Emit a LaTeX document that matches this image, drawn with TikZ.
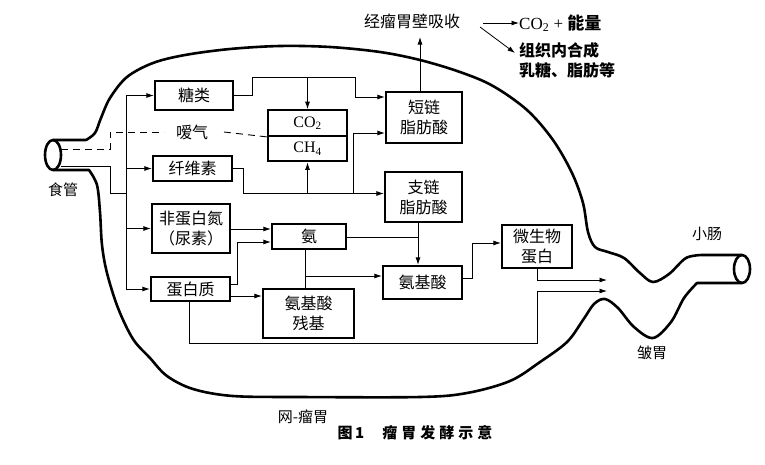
\documentclass[tikz,border=0pt]{standalone}
\usepackage{fontspec}
\setmainfont{Liberation Serif}
\newfontfamily\cjk{Noto Sans CJK SC}
\usetikzlibrary{arrows.meta}
\begin{document}
\begin{tikzpicture}[x=1pt,y=-1pt,
  box/.style={draw, line width=2.3pt, inner sep=0pt, align=center, font=\cjk\fontsize{16}{20}\selectfont},
  gasbox/.style={box, font=\fontsize{16}{20}\selectfont},
  conn/.style={line width=0.8pt},
  arr/.style={conn, -{Latex[length=7.5pt,width=5pt]}},
  gasline/.style={line width=0.9pt, dash pattern=on 7pt off 5pt},
  wall/.style={line width=2.6pt, line join=round, line cap=round},
  lbl/.style={font=\cjk\fontsize{15}{18}\selectfont, inner sep=0pt}
]
\useasboundingbox (0,0) rectangle (765,464);

% rumen wall
\draw[wall] (53,140) -- plot[smooth, tension=0.55] coordinates {(86,140) (95,133) (101,118) (110,98) (127,77) (153,63) (185,55) (230,49) (280,46) (330,47) (380,52) (420,60) (460,72) (493,86) (527,110) (553,140) (572,173) (583,203) (588,232) (595,247) (608,252) (624,258) (640,273) (653,282) (669,274) (686,258) (702,255)} -- (742,255);
\draw[wall] (742,283) -- plot[smooth, tension=0.55] coordinates {(697,283) (684,298) (671,322) (653,338) (634,327) (618,308) (605,299) (594,304) (583,320) (567,342) (540,362) (510,381) (467,393) (420,397) (300,397) (233,396) (193,389) (167,376) (150,358) (133,339) (118,308) (107,273) (102,245) (100,212) (97,185) (89,170)} -- (53,170);
\draw[wall] (53,155) ellipse [x radius=8, y radius=15];
\draw[wall] (742,269) ellipse [x radius=8, y radius=14];

% boxes
\node[box, minimum width=78pt, minimum height=29pt] (tang) at (194,95.5) {糖类};
\node[gasbox, minimum width=79pt, minimum height=25.5pt] (co2) at (307.5,123) {CO\textsubscript{2}};
\node[gasbox, minimum width=79pt, minimum height=25.5pt] (ch4) at (307.5,148.5) {CH\textsubscript{4}};
\node[box, minimum width=76pt, minimum height=51pt] (scfa) at (424,117.5) {短链\\脂肪酸};
\node[box, minimum width=77pt, minimum height=50pt] (bcfa) at (423.5,197) {支链\\脂肪酸};
\node[box, minimum width=79pt, minimum height=25pt] (xian) at (192.5,168.5) {纤维素};
\node[box, minimum width=78pt, minimum height=49pt] (fei) at (191,228.5) {非蛋白氮\\（尿素）};
\node[box, minimum width=74pt, minimum height=25pt] (an) at (309,236.5) {氨};
\node[box, minimum width=79pt, minimum height=24pt] (dbz) at (190.5,289) {蛋白质};
\node[box, minimum width=91pt, minimum height=49pt] (cj) at (308.5,313.5) {氨基酸\\残基};
\node[box, minimum width=79pt, minimum height=33pt] (ajs) at (422.5,282.5) {氨基酸};
\node[box, minimum width=70pt, minimum height=43pt] (wsw) at (537,246.5) {微生物\\蛋白};

% labels
\node[lbl] (shiguan) at (63,190) {食管};
\node[lbl, font=\cjk\fontsize{16}{18}\selectfont] (aiqi) at (192,132) {嗳气};
\node[lbl, font=\cjk\fontsize{16}{18}\selectfont] (xishou) at (412,21) {经瘤胃壁吸收};
\node[anchor=west, inner sep=0pt, font=\fontsize{17}{20}\selectfont] (co2e) at (519,23) {CO\textsubscript{2} + {\cjk\bfseries 能量}};
\node[anchor=west, inner sep=0pt, align=left, font=\cjk\bfseries\fontsize{16}{20}\selectfont] (zuzhi) at (519,60) {组织内合成\\乳糖、脂肪等};
\node[lbl] (xiaochang) at (707,234) {小肠};
\node[lbl] (zhouwei) at (652,353) {皱胃};
\node[lbl] (wangliu) at (303,417) {网-瘤胃};
\node[inner sep=0pt, font=\cjk\bfseries\fontsize{15}{18}\selectfont] (title) at (415,433) {图\,1\hspace{18pt}瘤\hspace{4pt}胃\hspace{4pt}发\hspace{4pt}酵\hspace{4pt}示\hspace{4pt}意};

% esophagus inputs
\coordinate (eso1) at (61,166);
\coordinate (eso2) at (61,149);
\draw[conn] (eso1) -- (110,166) -- (110,193) -- (126,193);
\draw[conn] (126,95.5) -- (126,289);
\draw[arr] (126,95.5) -- (tang.west);
\draw[arr] (126,168.5) -- (xian.west);
\draw[arr] (126,228.5) -- (fei.west);
\draw[arr] (126,289) -- (dbz.west);

% belching (dashed)
\draw[gasline] (eso2) -- (110,149) -- (110,132) -- (164,132);
\draw[gasline] (224,132) -- (co2.south west);

% carbohydrate paths
\draw[arr] (tang.east) -- (252,95.5) -- (252,77) -- (355,77) -- (355,97) -- (scfa.west |- 0,97);
\draw[arr] (307.5,77) -- (co2.north);
\draw[arr] (xian.east) -- (243,168.5) -- (243,193.5) -- (bcfa.west |- 0,193.5);
\draw[arr] (307.5,193.5) -- (ch4.south);
\draw[arr] (353,193.5) -- (353,133) -- (scfa.west |- 0,133);

% absorption
\draw[arr] (scfa.north -| 420,0) -- (420,37);
\coordinate (abs1) at (483,23);
\coordinate (abs2) at (480,27);
\draw[arr] (abs1) -- (co2e.west);
\draw[arr] (abs2) -- (515,53);

% nitrogen paths
\draw[arr] (fei.east |- 0,229) -- (an.west |- 0,229);
\draw[arr] (dbz.east |- 0,284) -- (237,284) -- (237,242) -- (an.west |- 0,242);
\draw[arr] (dbz.east |- 0,296) -- (cj.west |- 0,296);
\draw[conn] (an.east |- 0,237) -- (418,237);
\draw[arr] (bcfa.south -| 418,0) -- (ajs.north -| 418,0);
\draw[conn] (an.south -| 305,0) -- (cj.north -| 305,0);
\draw[arr] (305,276) -- (ajs.west |- 0,276);
\draw[arr] (ajs.east |- 0,278) -- (472,278) -- (472,243) -- (wsw.west |- 0,243);
\draw[arr] (wsw.south) -- (537,280) -- (607,280);
\draw[arr] (dbz.south -| 189,0) -- (189,343) -- (537,343) -- (537,291) -- (607,291);
\end{tikzpicture}
\end{document}
